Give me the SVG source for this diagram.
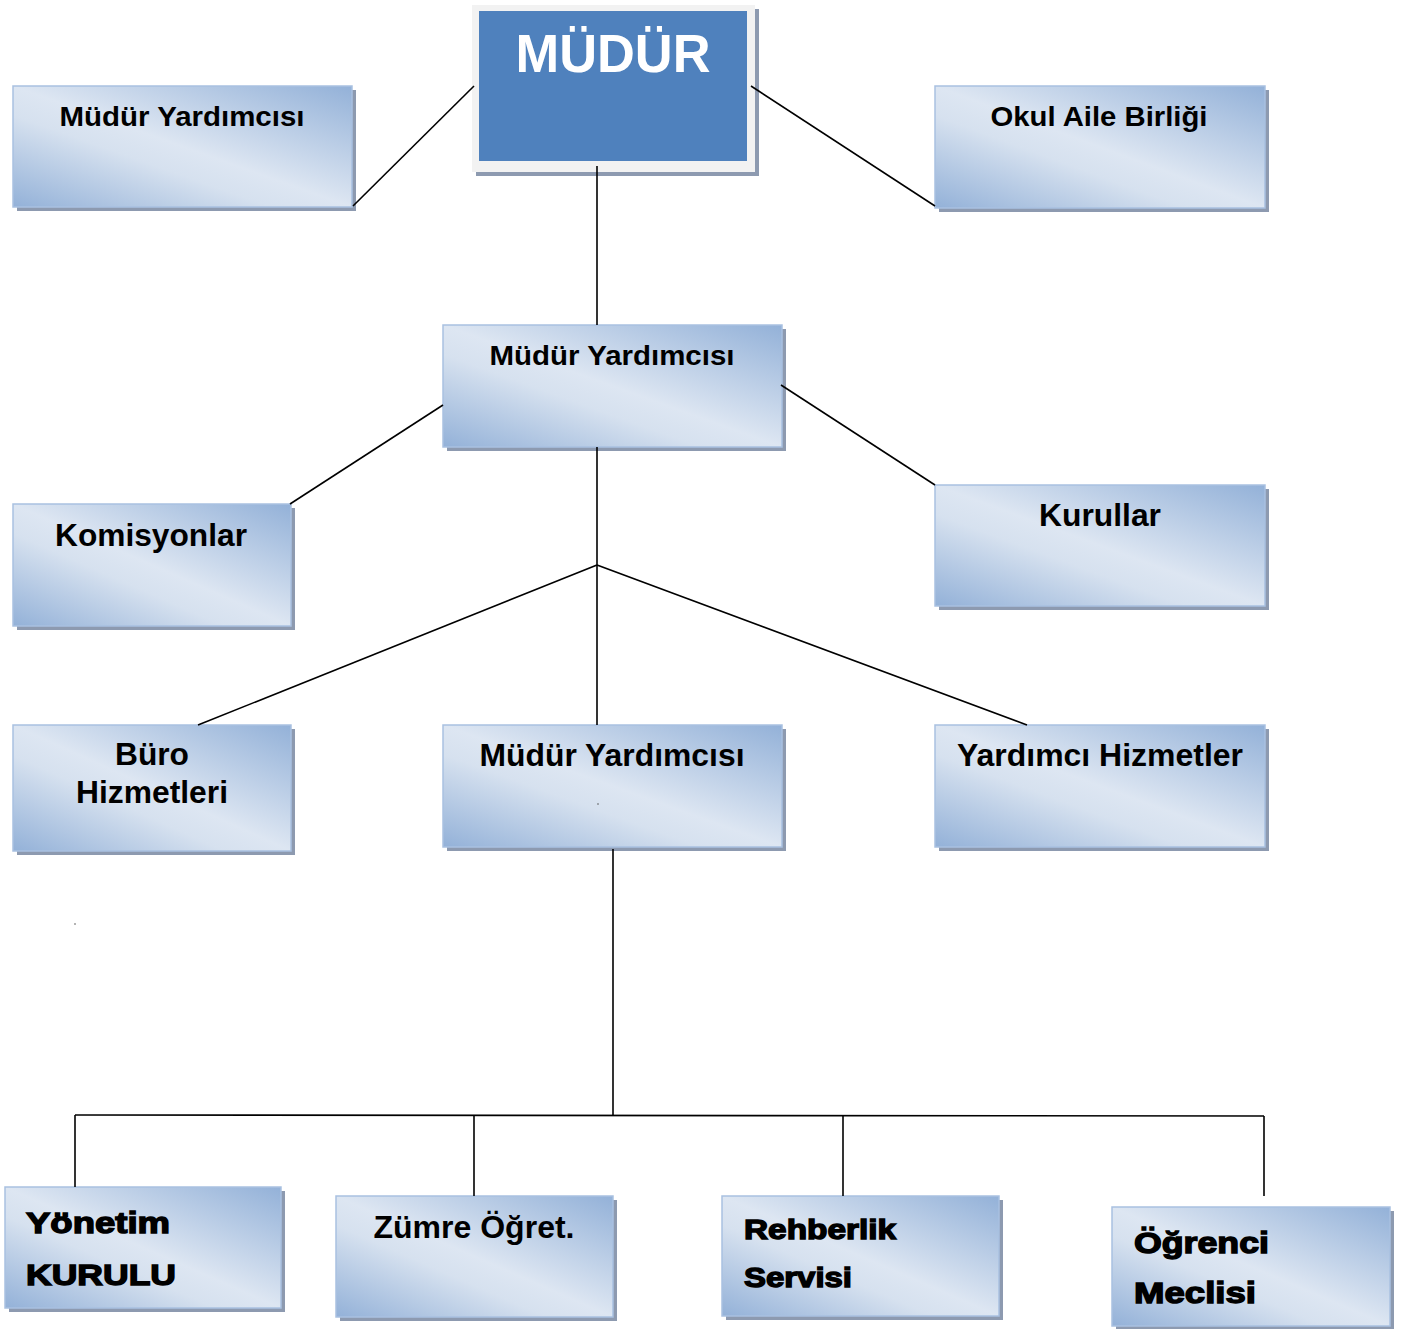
<svg xmlns="http://www.w3.org/2000/svg" width="1411" height="1329" viewBox="0 0 1411 1329">
<defs>
<linearGradient id="g" x1="1" y1="0" x2="0" y2="1">
<stop offset="0" stop-color="#93b1d8"/>
<stop offset="0.5" stop-color="#dde6f2"/>
<stop offset="0.62" stop-color="#d6e1ef"/>
<stop offset="1" stop-color="#93b1d8"/>
</linearGradient>
</defs>
<style>
.sh{fill:#8d9ab0}
.bx{fill:url(#g);stroke:#a9c1e1;stroke-width:1.5}
.t{font-family:"Liberation Sans",Arial,sans-serif;font-weight:bold;font-size:28px;fill:#000;text-anchor:middle}
.h{font-family:"Liberation Sans",Arial,sans-serif;font-weight:bold;font-size:30px;fill:#000;stroke:#000;stroke-width:1.4}
.c{stroke:#000;stroke-width:1.6;fill:none}
</style>
<g id="mudur">
<rect x="476" y="9" width="283" height="167" fill="#8d9ab0"/>
<rect x="472" y="5" width="283" height="167" fill="#f2f2f2"/>
<rect x="479" y="11" width="268" height="150" fill="#4f81bd"/>
<text x="613" y="72" font-family="Liberation Sans,Arial,sans-serif" font-weight="bold" font-size="54" fill="#fff" text-anchor="middle" textLength="195" lengthAdjust="spacingAndGlyphs">MÜDÜR</text>
</g>
<g id="myard1">
<rect class="sh" x="17" y="90" width="339" height="121"/>
<rect class="bx" x="13" y="86" width="339" height="121"/>
<text class="t" x="182" y="126" textLength="245" lengthAdjust="spacingAndGlyphs">Müdür Yardımcısı</text>
</g>
<g id="okul">
<rect class="sh" x="939" y="90" width="330" height="122"/>
<rect class="bx" x="935" y="86" width="330" height="122"/>
<text class="t" x="1099" y="126" textLength="217" lengthAdjust="spacingAndGlyphs">Okul Aile Birliği</text>
</g>
<g id="myard2">
<rect class="sh" x="447" y="329" width="339" height="122"/>
<rect class="bx" x="443" y="325" width="339" height="122"/>
<text class="t" x="612" y="365" textLength="245" lengthAdjust="spacingAndGlyphs">Müdür Yardımcısı</text>
</g>
<g id="komisyonlar">
<rect class="sh" x="17" y="508" width="278" height="122"/>
<rect class="bx" x="13" y="504" width="278" height="122"/>
<text class="t" x="151" y="546" style="font-size:31px" textLength="192" lengthAdjust="spacingAndGlyphs">Komisyonlar</text>
</g>
<g id="kurullar">
<rect class="sh" x="939" y="489" width="330" height="121"/>
<rect class="bx" x="935" y="485" width="330" height="121"/>
<text class="t" x="1100" y="526" style="font-size:31px" textLength="122" lengthAdjust="spacingAndGlyphs">Kurullar</text>
</g>
<g id="buro">
<rect class="sh" x="17" y="729" width="278" height="126"/>
<rect class="bx" x="13" y="725" width="278" height="126"/>
<text class="t" x="152" y="765" style="font-size:31px" textLength="74" lengthAdjust="spacingAndGlyphs">Büro</text>
<text class="t" x="152" y="803" style="font-size:31px" textLength="152" lengthAdjust="spacingAndGlyphs">Hizmetleri</text>
</g>
<g id="myard3">
<rect class="sh" x="447" y="729" width="339" height="122"/>
<rect class="bx" x="443" y="725" width="339" height="122"/>
<text class="t" x="612" y="766" style="font-size:31px" textLength="265" lengthAdjust="spacingAndGlyphs">Müdür Yardımcısı</text>
<circle cx="598" cy="804" r="0.8" fill="#555"/>
</g>
<g id="yardimci">
<rect class="sh" x="939" y="729" width="330" height="122"/>
<rect class="bx" x="935" y="725" width="330" height="122"/>
<text class="t" x="1100" y="766" style="font-size:31px" textLength="286" lengthAdjust="spacingAndGlyphs">Yardımcı Hizmetler</text>
</g>
<circle cx="75" cy="924" r="0.8" fill="#555"/>
<g id="yonetim">
<rect class="sh" x="9" y="1191" width="276" height="121"/>
<rect class="bx" x="5" y="1187" width="276" height="121"/>
<text class="h" x="26" y="1233" textLength="144" lengthAdjust="spacingAndGlyphs">Yönetim</text>
<text class="h" x="26" y="1285" textLength="150" lengthAdjust="spacingAndGlyphs">KURULU</text>
</g>
<g id="zumre">
<rect class="sh" x="340" y="1200" width="277" height="121"/>
<rect class="bx" x="336" y="1196" width="277" height="121"/>
<text class="t" x="474" y="1238" style="font-size:31px" textLength="201" lengthAdjust="spacingAndGlyphs">Zümre Öğret.</text>
</g>
<g id="rehberlik">
<rect class="sh" x="726" y="1200" width="277" height="120"/>
<rect class="bx" x="722" y="1196" width="277" height="120"/>
<text class="h" x="744" y="1239" style="font-size:28px" textLength="152" lengthAdjust="spacingAndGlyphs">Rehberlik</text>
<text class="h" x="744" y="1287" style="font-size:28px" textLength="108" lengthAdjust="spacingAndGlyphs">Servisi</text>
</g>
<g id="ogrenci">
<rect class="sh" x="1116" y="1211" width="278" height="119"/>
<rect class="bx" x="1112" y="1207" width="278" height="119"/>
<text class="h" x="1134" y="1253" textLength="135" lengthAdjust="spacingAndGlyphs">Öğrenci</text>
<text class="h" x="1134" y="1303" textLength="122" lengthAdjust="spacingAndGlyphs">Meclisi</text>
</g>
<g id="connectors">
<line class="c" x1="474" y1="86" x2="353" y2="206"/>
<line class="c" x1="751" y1="86" x2="935" y2="206"/>
<line class="c" x1="597" y1="166" x2="597" y2="325"/>
<line class="c" x1="443" y1="405" x2="290" y2="504"/>
<line class="c" x1="781" y1="385" x2="935" y2="485"/>
<line class="c" x1="597" y1="447" x2="597" y2="725"/>
<line class="c" x1="597" y1="565" x2="198" y2="725"/>
<line class="c" x1="597" y1="565" x2="1027" y2="725"/>
<line class="c" x1="613" y1="849" x2="613" y2="1115"/>
<line class="c" x1="75" y1="1115" x2="1264" y2="1116"/>
<line class="c" x1="75" y1="1115" x2="75" y2="1187"/>
<line class="c" x1="474" y1="1115" x2="474" y2="1196"/>
<line class="c" x1="843" y1="1115" x2="843" y2="1196"/>
<line class="c" x1="1264" y1="1116" x2="1264" y2="1196"/>
</g>
</svg>
